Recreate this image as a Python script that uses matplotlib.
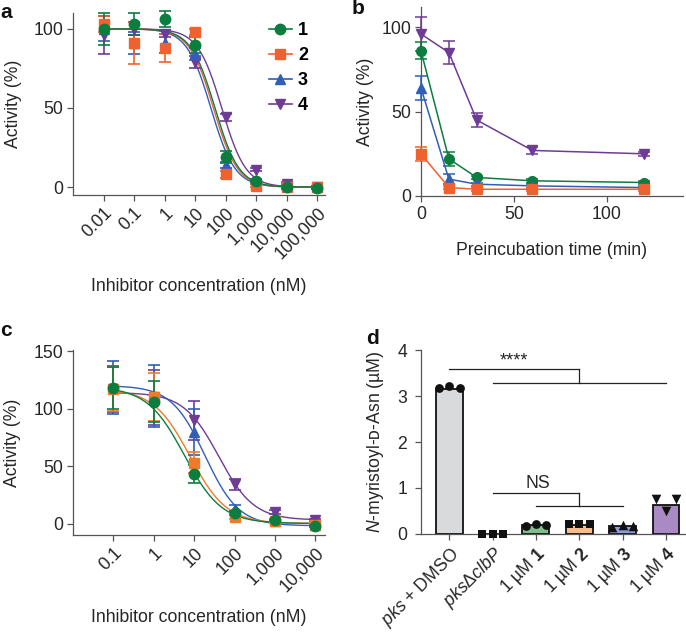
import numpy as np
import matplotlib
matplotlib.use("Agg")
import matplotlib.pyplot as plt
from matplotlib.lines import Line2D

plt.rcParams['font.family'] = ['Liberation Sans', 'DejaVu Sans']
plt.rcParams['mathtext.fontset'] = 'custom'
plt.rcParams['mathtext.rm'] = 'Liberation Sans'
plt.rcParams['mathtext.it'] = 'Liberation Sans:italic'
plt.rcParams['mathtext.bf'] = 'Liberation Sans:bold'

# ---------------- data ----------------
series_labels = ['1', '2', '3', '4']
colors_ac = ['#0b7d3e', '#ef6230', '#2f5fb6', '#6e3b96']
colors_c = ['#0b7d3e', '#ef7a2a', '#2f5fb6', '#6e3b96']
markers = ['o', 's', '^', 'v']

# Panel a
conc_a = [0.01, 0.1, 1, 10, 100, 1000, 10000, 100000]
act_a = [
    [100, 103, 106, 90, 19, 4, 0, -0.5],
    [103, 91, 88, 98, 8, 1, 0, 0],
    [100, 91, 91, 84, 14, 3, 1, 0],
    [96, 100, 97, 79, 44, 11, 2, 0],
]
err_a = [
    [10, 7, 5, 5, 4, 1, 1, 1],
    [5, 13, 9, 2, 2, 1, 1, 1],
    [8, 7, 6, 4, 2, 1, 1, 1],
    [12, 4, 2, 4, 2, 1, 1, 1],
]
fit_a_top = [100, 100, 100, 100]
fit_a_bottom = [0, 0, 0, 0]
fit_a_ic50 = [45, 40, 33, 75]
fit_a_hill = [1.1, 1.1, 1.1, 1.1]

# Panel b
time_b = [0, 15, 30, 60, 120]
act_b = [
    [86, 22, 11, 9, 8],
    [25, 5, 4, 4, 4],
    [64, 10, 7, 6, 5],
    [96, 85, 45, 27, 25],
]
err_b = [
    [5, 4, 1, 1, 1],
    [4, 1, 1, 1, 1],
    [7, 3, 1, 1, 1],
    [10, 7, 4, 2, 1],
]

# Panel c
conc_c = [0.1, 1, 10, 100, 1000, 10000]
act_c = [
    [118, 106, 43, 9, 3, -2],
    [117, 110, 53, 6, 2, -1],
    [118, 111, 80, 13, 2, -1],
    [117, 110, 90, 34, 10, 3],
]
err_c = [
    [18, 18, 8, 2, 1, 1],
    [19, 21, 9, 2, 1, 1],
    [23, 27, 20, 3, 1, 1],
    [20, 24, 17, 5, 2, 1],
]
fit_c_top = [119, 117, 120, 114]
fit_c_bottom = [0, 0, -2, 3]
fit_c_ic50 = [5.7, 7.9, 18.6, 40.5]
fit_c_hill = [0.94, 0.96, 1.04, 1.0]

# Panel d
groups_d = [r'$\it{pks}$ + DMSO', r'$\it{pks}$Δ$\it{clbP}$', r'1 µM $\bf{1}$',
            r'1 µM $\bf{2}$', r'1 µM $\bf{3}$', r'1 µM $\bf{4}$']
means_d = [3.15, 0.0, 0.19, 0.20, 0.17, 0.63]
reps_d = [
    [3.17, 3.22, 3.17],
    [0.0, 0.0, 0.0],
    [0.17, 0.22, 0.20],
    [0.21, 0.22, 0.21],
    [0.15, 0.20, 0.17],
    [0.76, 0.50, 0.76],
]
rep_markers_d = ['o', 's', 'o', 's', '^', 'v']
rep_sizes_d = [40, 36, 40, 36, 48, 48]
bar_colors_d = ['#d9dadc', '#ffffff', '#7fbf8e', '#f8bb8b', '#8d9fd8', '#a98ac4']

# ---------------- figure ----------------
W, H = 686, 633
fig = plt.figure(figsize=(W / 100, H / 100), dpi=100)


def ax_px(l, t, r, b):
    return fig.add_axes([l / W, 1 - b / H, (r - l) / W, (b - t) / H])


spine_col = '#555555'
txt_col = '#262626'
FS = 12.7


def style(ax):
    for s in ['top', 'right']:
        ax.spines[s].set_visible(False)
    for s in ['left', 'bottom']:
        ax.spines[s].set_color(spine_col)
        ax.spines[s].set_linewidth(0.9)
    ax.tick_params(direction='out', length=4, width=0.9, color=spine_col,
                   labelsize=FS, labelcolor=txt_col, pad=3)


def hill(x, top, bottom, ic50, h):
    return bottom + (top - bottom) / (1 + (x / ic50) ** h)


# ---- panel a ----
axa = ax_px(73, 13, 325, 195)
style(axa)
axa.set_xscale('log')
axa.set_xlim(10 ** -3, 10 ** 5.26)
axa.set_ylim(-5, 110)
xf = np.logspace(-2, 5, 300)
for i in [3, 2, 1, 0]:
    axa.plot(xf, hill(xf, fit_a_top[i], fit_a_bottom[i], fit_a_ic50[i], fit_a_hill[i]),
             color=colors_ac[i], lw=1.0, zorder=2)
for i in [3, 2, 1, 0]:
    axa.errorbar(conc_a, act_a[i], yerr=err_a[i], fmt=markers[i], color=colors_ac[i],
                 ms=7.5, capsize=4, elinewidth=1.2, capthick=1.2, zorder=3, clip_on=False)
axa.set_xticks(conc_a)
axa.set_xticklabels(['0.01', '0.1', '1', '10', '100', '1,000', '10,000', '100,000'],
                    rotation=45, ha='right', rotation_mode='anchor')
axa.xaxis.set_minor_locator(matplotlib.ticker.NullLocator())
axa.set_yticks([0, 50, 100])
axa.set_ylabel('Activity (%)', fontsize=FS, color=txt_col, labelpad=8)
axa.set_xlabel('Inhibitor concentration (nM)', fontsize=FS, color=txt_col, labelpad=11)
handles = [Line2D([0], [0], color=colors_ac[i], marker=markers[i], ms=7.5, lw=1.2)
           for i in range(4)]
leg = axa.legend(handles, series_labels, loc='upper left',
                 bbox_to_anchor=(269 / W, 1 - 22 / H), bbox_transform=fig.transFigure,
                 frameon=False, handlelength=1.25, handletextpad=0.35, labelspacing=0.45,
                 borderpad=0, borderaxespad=0,
                 prop={'weight': 'bold', 'size': 13})

# ---- panel b ----
axb = ax_px(421, 7, 683, 196)
style(axb)
axb.set_xlim(0, 141)
axb.set_ylim(0, 112)
for i in [3, 0, 2, 1]:
    axb.errorbar(time_b, act_b[i], yerr=err_b[i], fmt='-' + markers[i], color=colors_ac[i],
                 ms=7, lw=1.1, capsize=4, elinewidth=1.1, capthick=1.1, zorder=3,
                 clip_on=False)
axb.set_xticks([0, 50, 100])
axb.set_yticks([0, 50, 100])
axb.set_ylabel('Activity (%)', fontsize=FS, color=txt_col, labelpad=5)
axb.set_xlabel('Preincubation time (min)', fontsize=FS, color=txt_col, labelpad=14)

# ---- panel c ----
axc = ax_px(73, 350, 325, 535)
style(axc)
axc.set_xscale('log')
axc.set_xlim(10 ** -2, 10 ** 4.24)
axc.set_ylim(-10, 151)
xf = np.logspace(-1, 4, 300)
for i in [3, 2, 1, 0]:
    axc.plot(xf, hill(xf, fit_c_top[i], fit_c_bottom[i], fit_c_ic50[i], fit_c_hill[i]),
             color=colors_c[i], lw=1.0, zorder=2)
for i in [3, 2, 1, 0]:
    axc.errorbar(conc_c, act_c[i], yerr=err_c[i], fmt=markers[i], color=colors_c[i],
                 ms=7.5, capsize=4, elinewidth=1.2, capthick=1.2, zorder=3, clip_on=False)
axc.set_xticks(conc_c)
axc.set_xticklabels(['0.1', '1', '10', '100', '1,000', '10,000'],
                    rotation=45, ha='right', rotation_mode='anchor')
axc.xaxis.set_minor_locator(matplotlib.ticker.NullLocator())
axc.set_yticks([0, 50, 100, 150])
axc.set_ylabel('Activity (%)', fontsize=FS, color=txt_col, labelpad=9)
axc.set_xlabel('Inhibitor concentration (nM)', fontsize=FS, color=txt_col, labelpad=10)

# ---- panel d ----
axd = ax_px(421, 350, 686, 534)
style(axd)
axd.tick_params(axis='y', pad=6)
axd.set_xlim(-0.65, 5.46)
axd.set_ylim(0, 4)
xd = np.arange(len(groups_d))
axd.bar(xd, means_d, width=0.62, color=bar_colors_d, edgecolor='#111111', linewidth=1.3,
        zorder=2)
for i, vals in enumerate(reps_d):
    axd.scatter(xd[i] + np.array([-0.24, 0, 0.24]), vals, marker=rep_markers_d[i],
                s=rep_sizes_d[i], color='#111111', zorder=4, clip_on=False, linewidths=0)
axd.set_xticks(xd)
axd.set_xticklabels(groups_d, rotation=45, ha='right', rotation_mode='anchor')
axd.set_yticks([0, 1, 2, 3, 4])
axd.set_ylabel(r'$\it{N}$-myristoyl-ᴅ-Asn (µM)', fontsize=FS, color=txt_col, labelpad=8)
lk = dict(color='#222222', lw=0.9, zorder=3)
# significance brackets
axd.plot([0, 3], [3.58, 3.58], **lk)
axd.plot([3, 3], [3.58, 3.29], **lk)
axd.plot([1, 5], [3.29, 3.29], **lk)
axd.text(1.5, 3.76, '****', ha='center', va='center', fontsize=13, color=txt_col)
axd.plot([1, 3], [0.9, 0.9], **lk)
axd.plot([3, 3], [0.9, 0.6], **lk)
axd.plot([2, 4], [0.6, 0.6], **lk)
axd.text(2.05, 1.1, 'NS', ha='center', va='center', fontsize=FS, color=txt_col)

# panel letters
for lbl, (x, y) in {'a': (0, 12), 'b': (352, 9), 'c': (0, 331), 'd': (366, 338)}.items():
    fig.text(x / W, 1 - y / H, lbl, fontsize=15, fontweight='bold', ha='left',
             va='center', color='#111111')

fig.savefig('out.png', dpi=100)
